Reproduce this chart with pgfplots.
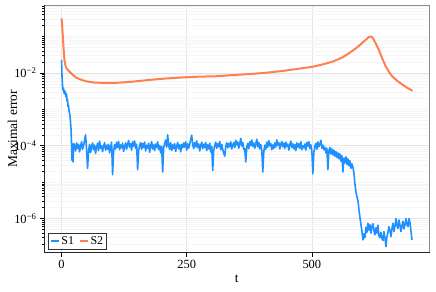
\documentclass[border=0pt]{standalone}
\usepackage{fontspec}
\setmainfont{Liberation Serif}
\usepackage{pgfplots}
\pgfplotsset{compat=1.18}
\definecolor{sone}{RGB}{30,144,255}
\definecolor{stwo}{RGB}{255,127,80}
\begin{document}
\begin{tikzpicture}[font=\fontsize{12}{14}\selectfont]
\begin{axis}[
  name=ax,
  scale only axis,
  width=385.5bp, height=247.7bp,
  xmin=-35, xmax=735,
  ymode=log, log basis y=10,
  ymin=1.156e-7, ymax=0.738,
  xtick={0,250,500}, xticklabels={0,250,500},
  ytick={1e-6,1e-4,1e-2},
  yticklabels={10\textsuperscript{−6},10\textsuperscript{−4},10\textsuperscript{−2}},
  minor ytick={2e-7,3e-7,4e-7,5e-7,6e-7,7e-7,8e-7,9e-7,
    2e-6,3e-6,4e-6,5e-6,6e-6,7e-6,8e-6,9e-6,
    1e-5,2e-5,3e-5,4e-5,5e-5,6e-5,7e-5,8e-5,9e-5,
    2e-4,3e-4,4e-4,5e-4,6e-4,7e-4,8e-4,9e-4,
    1e-3,2e-3,3e-3,4e-3,5e-3,6e-3,7e-3,8e-3,9e-3,
    2e-2,3e-2,4e-2,5e-2,6e-2,7e-2,8e-2,9e-2,
    1e-1,2e-1,3e-1,4e-1,5e-1,6e-1,7e-1},
  tick pos=left,
  tick align=outside,
  major tick length=4bp, minor tick length=2bp,
  tick style={black, line width=0.6pt},
  tick label style={font=\fontsize{12.5}{14}\selectfont},
  xmajorgrids, ymajorgrids, yminorgrids,
  major grid style={black!10, line width=0.6pt},
  minor grid style={black!4, line width=0.5pt},
  axis line style={black!45, line width=0.6pt},
  xlabel={t}, ylabel={Maximal error},
  every axis x label/.style={at={(axis description cs:0.5,-0.106)},anchor=center,font=\fontsize{13.5}{15}\selectfont},
  every axis y label/.style={at={(axis description cs:-0.0817,0.5)},rotate=90,anchor=center,font=\fontsize{13.5}{15}\selectfont},
  legend columns=2,
  legend style={at={(axis description cs:0,0)}, anchor=south west, xshift=4.3bp, yshift=3.4bp,
    draw=black!80, line width=0.6pt, inner sep=1.2bp, font=\fontsize{12}{14}\selectfont,
    /tikz/every even column/.append style={column sep=3bp}},
  legend image code/.code={\draw[#1, line width=1.6pt] (0bp,0bp) -- (8bp,0bp);},
  after end axis/.code={\draw[black!85, line width=0.8pt] (rel axis cs:0,1) -- (rel axis cs:0,0) -- (rel axis cs:1,0);},
]
\addplot[sone, line width=1.6pt, line join=round] coordinates {
(0,2.3e-2) (1,8.0e-3) (2,4.5e-3) (3,3.4e-3) (4,3.9e-3) (5,2.8e-3) (6,3.3e-3) (7,2.6e-3) (8,3.0e-3) (9,2.2e-3)
(10,2.6e-3) (11,1.7e-3) (12,1.9e-3) (13,1.2e-3) (14,1.3e-3) (15,9.0e-4) (16,8.0e-4) (17,6.5e-4) (18,4.5e-4) (19,2.8e-4)
(20,1.2e-4) (21,4.0e-5) (22,10.5e-5) (23,3.6e-5) (24,11.5e-5)
(26,10.5e-5) (28,7.2e-5) (30,12e-5) (32,8.4e-5) (34,11e-5) (36,6.8e-5) (38,9.6e-5) (40,13e-5) (42,8e-5) (44,10.2e-5)
(46,14e-5) (48,20e-5) (50,8e-5) (52,2.4e-5) (54,7e-5) (56,11e-5) (58,6.5e-5) (60,9.5e-5) (62,12e-5) (64,7.8e-5)
(66,10.5e-5) (68,6.2e-5) (70,9e-5) (72,11.8e-5) (74,7.4e-5) (76,13.5e-5) (78,8.6e-5) (80,10e-5) (82,6.9e-5) (84,9.8e-5)
(86,12.2e-5) (88,7.6e-5) (90,10.4e-5) (92,8e-5) (94,11e-5) (96,6.4e-5) (98,9.2e-5) (100,12.6e-5) (102,1.6e-5) (104,7.2e-5)
(106,10.8e-5) (108,8.2e-5) (110,12.4e-5) (112,9e-5) (114,13.2e-5) (116,7.8e-5) (118,10.6e-5) (120,8.8e-5) (122,11.8e-5) (124,7e-5)
(126,9.6e-5) (128,12e-5) (130,8.1e-5) (132,10.8e-5) (134,14e-5) (136,9.2e-5) (138,11.4e-5) (140,7.6e-5) (142,12.8e-5) (144,9.8e-5)
(146,13.6e-5) (148,8.4e-5) (150,11e-5) (152,2.2e-5) (154,7.4e-5) (156,10.2e-5) (158,12.2e-5) (160,8e-5) (162,11.6e-5) (164,9e-5)
(166,12.6e-5) (168,7.2e-5) (170,10.4e-5) (172,8.6e-5) (174,11.8e-5) (176,6.6e-5) (178,9.8e-5) (180,13e-5) (182,8.2e-5) (184,10.6e-5)
(186,7.4e-5) (188,11.2e-5) (190,9e-5) (192,12.8e-5) (194,7.8e-5) (196,10.2e-5) (198,6.4e-5) (200,9.6e-5) (202,1.9e-5) (204,8.8e-5)
(206,11.6e-5) (208,14.4e-5) (210,9.2e-5) (212,20e-5) (214,10.4e-5) (216,8e-5) (218,12.2e-5) (220,7.4e-5) (222,10.6e-5) (224,8.4e-5)
(226,11.4e-5) (228,7e-5) (230,9.8e-5) (232,12.4e-5) (234,8.2e-5) (236,10.6e-5) (238,6.8e-5) (240,11e-5) (242,8.8e-5) (244,12e-5)
(246,9.2e-5) (248,12.8e-5) (250,7.6e-5) (252,11.4e-5) (254,8.6e-5) (256,10.8e-5) (258,15e-5) (260,19.5e-5) (262,11e-5) (264,8.4e-5)
(266,12.2e-5) (268,9.4e-5) (270,13.6e-5) (272,8.8e-5) (274,11.2e-5) (276,7.2e-5) (278,10.4e-5) (280,12.6e-5) (282,8.4e-5) (284,11e-5)
(286,9e-5) (288,12.4e-5) (290,7.4e-5) (292,10.6e-5) (294,8.2e-5) (296,11.8e-5) (298,6.8e-5) (300,9.6e-5) (302,2.1e-5) (304,7.6e-5)
(306,10.2e-5) (308,12.6e-5) (310,8.6e-5) (312,11.4e-5) (314,9.4e-5) (316,13.2e-5) (318,7.8e-5) (320,10.8e-5) (322,8e-5) (324,6.2e-5)
(326,5.2e-5) (328,9.6e-5) (330,12e-5) (332,8.8e-5) (334,11.6e-5) (336,9.4e-5) (338,13e-5) (340,8.2e-5) (342,10.4e-5) (344,12.2e-5)
(346,9e-5) (348,14.2e-5) (350,10.6e-5) (352,12.8e-5) (354,8.6e-5) (356,11.4e-5) (358,16e-5) (360,9.8e-5) (362,12.4e-5) (364,7.8e-5)
(366,8.4e-5) (368,3.6e-5) (370,9.2e-5) (372,11.6e-5) (374,8.4e-5) (376,13e-5) (378,10.2e-5) (380,14.4e-5) (382,9.6e-5) (384,12e-5)
(386,8.6e-5) (388,11.2e-5) (390,15.2e-5) (392,9.4e-5) (394,12.4e-5) (396,8.2e-5) (398,10.8e-5) (400,7.6e-5) (402,1.9e-5) (404,6.8e-5)
(406,10.4e-5) (408,8e-5) (410,12.6e-5) (412,9.2e-5) (414,13.8e-5) (416,10e-5) (418,11.6e-5) (420,7.8e-5) (422,10.6e-5) (424,8.4e-5)
(426,12e-5) (428,9.2e-5) (430,14.6e-5) (432,10.4e-5) (434,12.2e-5) (436,8.2e-5) (438,11e-5) (440,13.2e-5) (442,9.4e-5) (444,11.8e-5)
(446,8.4e-5) (448,12.6e-5) (450,9.6e-5) (452,11.2e-5) (454,7.6e-5) (456,10.6e-5) (458,13.4e-5) (460,9e-5) (462,11.4e-5) (464,8.2e-5)
(466,10.8e-5) (468,7.4e-5) (470,12e-5) (472,9.2e-5) (474,11.4e-5) (476,8.6e-5) (478,13e-5) (480,7.8e-5) (482,10e-5) (484,8.8e-5)
(486,11.2e-5) (488,7.6e-5) (490,12.4e-5) (492,9.8e-5) (494,13e-5) (496,8.4e-5) (498,10.6e-5) (500,7.2e-5) (502,1.7e-5) (504,6.6e-5)
(506,9.8e-5) (508,11.6e-5) (510,8e-5) (512,12.8e-5) (514,9.4e-5) (516,11e-5) (518,14.2e-5) (520,8.6e-5) (522,10.4e-5) (524,7.8e-5)
(526,9.2e-5) (528,6.4e-5) (530,8.6e-5) (532,2.2e-5) (534,7.2e-5) (536,9e-5) (538,6e-5) (540,8.2e-5) (542,5.6e-5) (544,7.6e-5)
(546,5.2e-5) (548,7e-5) (550,4.8e-5) (552,6.4e-5) (554,4.4e-5) (556,6e-5) (558,3.8e-5) (560,5.4e-5) (562,1.9e-5) (564,4.6e-5)
(566,3.4e-5) (568,5e-5) (570,3.1e-5) (572,4.4e-5) (574,2.8e-5) (576,3.9e-5) (578,2.4e-5) (580,3.2e-5)
(582,2.6e-5) (584,1.8e-5) (586,9.0e-6) (588,5.5e-6) (590,4.0e-6) (592,3.2e-6) (594,1.8e-6) (596,1.1e-6) (598,7.0e-7) (600,4.5e-7)
(602,2.6e-7) (604,3.8e-7) (606,3.0e-7) (608,5.8e-7) (610,4.2e-7) (612,7.4e-7) (614,4.8e-7) (616,6.8e-7) (618,4.0e-7) (620,6.0e-7)
(622,7.2e-7) (624,4.6e-7) (626,3.6e-7) (628,5.6e-7) (630,4.0e-7) (632,6.6e-7) (634,3.4e-7) (636,3.0e-7) (638,4.2e-7) (640,2.8e-7)
(642,2.5e-7) (644,4.4e-7) (646,3.0e-7) (648,1.7e-7) (650,3.2e-7) (652,4.2e-7) (654,6.0e-7) (656,4.6e-7) (658,3.2e-7) (660,5.4e-7)
(662,7.4e-7) (664,4.4e-7) (666,6.2e-7) (668,1.0e-6) (670,6.4e-7) (672,5.4e-7) (674,9.2e-7) (676,6.6e-7) (678,4.4e-7) (680,6.4e-7)
(682,8.4e-7) (684,5.2e-7) (686,6.8e-7) (688,1.0e-6) (690,7.0e-7) (692,6.0e-7) (694,1.0e-6) (696,7.8e-7) (698,4.4e-7) (700,2.6e-7)
};
\addlegendentry{S1}
\addplot[stwo, line width=2pt, line join=round] coordinates {
(0,0.316) (1,0.229) (2,0.141) (3,0.0851) (4,0.0501) (5,0.0316) (6,0.0219) (8,0.0158) (10,0.0135) (13,0.0120)
(18,0.0102) (24,0.00851) (30,0.00741) (40,0.00646) (50,0.00589) (63,0.00550) (80,0.00537) (110,0.00537) (140,0.00575) (176,0.00646)
(210,0.00708) (243,0.00759) (275,0.00794) (308,0.00813) (340,0.00871) (374,0.00933) (410,0.0102) (441,0.01135) (470,0.0129) (501,0.0148)
(520,0.0170) (541,0.0204) (560,0.0263) (574,0.0347) (590,0.0501) (601,0.0676) (610,0.0871) (614,0.0977) (618,0.100) (621,0.0955)
(627,0.0676) (634,0.0427) (640,0.0263) (647,0.0158) (654,0.0107) (661,0.00794) (671,0.00603) (681,0.00479) (691,0.00389) (701,0.00324)
};
\addlegendentry{S2}
\end{axis}
\pgfresetboundingbox
\path[use as bounding box] ([xshift=-44bp,yshift=-38.3bp]ax.south west) rectangle ([xshift=6.5bp,yshift=5bp]ax.north east);
\end{tikzpicture}
\end{document}
